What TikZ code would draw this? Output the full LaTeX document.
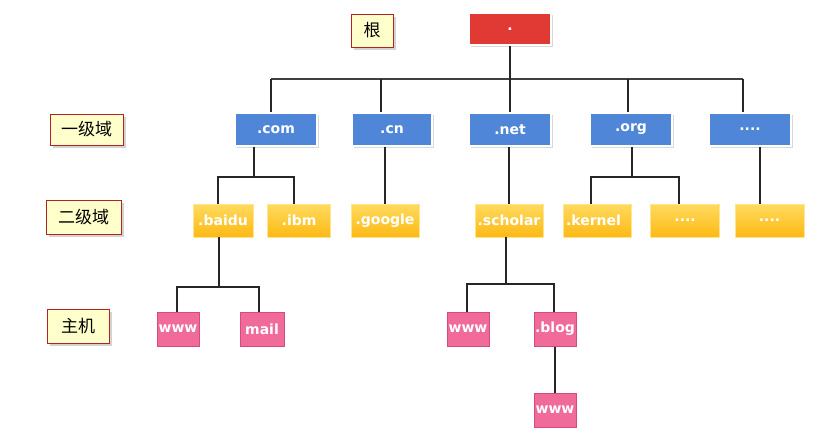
\documentclass[tikz,border=0pt]{standalone}
\usepackage{fontspec}
\setmainfont{DejaVu Sans}
\newfontfamily\cjk{Noto Sans CJK SC}
\usetikzlibrary{positioning,shadows}
\definecolor{rootred}{HTML}{E13A35}
\definecolor{tldblue}{HTML}{4F86D8}
\definecolor{sldtop}{HTML}{FFDA5E}
\definecolor{sldbot}{HTML}{FDB914}
\definecolor{hostpink}{HTML}{F06A9A}
\definecolor{hostedge}{HTML}{D64A80}
\definecolor{lblfill}{HTML}{FFFFCC}
\definecolor{lbledge}{HTML}{B52222}

\begin{document}
\begin{tikzpicture}[x=1pt, y=-1pt,
  box/.style={rectangle, inner sep=0pt, minimum height=33pt, text=white, font=\fontsize{14}{14}\selectfont\bfseries},
  rootbox/.style={box, fill=rootred, draw=white, line width=1.5pt, drop shadow={shadow xshift=1.5pt, shadow yshift=-1.5pt, opacity=0.3}},
  tldbox/.style={box, fill=tldblue, draw=white, line width=1.5pt, drop shadow={shadow xshift=1.5pt, shadow yshift=-1.5pt, opacity=0.3}},
  sldbox/.style={box, top color=sldtop, bottom color=sldbot, draw=sldtop!70!white, line width=0.6pt},
  hostbox/.style={box, minimum height=34pt, fill=hostpink, draw=hostedge, line width=1pt},
  lvl/.style={rectangle, inner sep=0pt, fill=lblfill, draw=lbledge, line width=1pt, font=\cjk\fontsize{17}{17}\selectfont, drop shadow={shadow xshift=3pt, shadow yshift=-3pt, opacity=0.35}},
  tree/.style={draw=black!85, line width=1.1pt},
  bar/.style={draw=black!75, line width=2.2pt}]
  \useasboundingbox (0,0) rectangle (816,432);

  % level labels
  \node[lvl, minimum width=42pt, minimum height=33pt] (lroot) at (372,30.5) {根};
  \node[lvl, minimum width=73pt, minimum height=31pt] (lfirst) at (86.5,129.5) {一级域};
  \node[lvl, minimum width=75pt, minimum height=34pt] (lsecond) at (83.5,217) {二级域};
  \node[lvl, minimum width=62pt, minimum height=34pt] (lhost) at (78,326) {主机};

  % root and top level domains
  \node[rootbox, minimum width=82pt, minimum height=32pt] (root) at (510,29) {.};
  \node[tldbox, minimum width=82pt] (com) at (276,129.5) {.com};
  \node[tldbox, minimum width=80pt] (cn) at (392,129.5) {.cn};
  \node[tldbox, minimum width=82pt] (net) at (510,129.5) {.net};
  \node[tldbox, minimum width=82pt] (org) at (631,129.5) {.org};
  \node[tldbox, minimum width=82pt] (tldmore) at (750,129.5) {....};

  % second level domains
  \node[sldbox, minimum width=60pt] (baidu) at (223,220.5) {.baidu};
  \node[sldbox, minimum width=63pt, right=14pt of baidu] (ibm) {.ibm};
  \node[sldbox, minimum width=68pt] (google) at (385,220.5) {.google};
  \node[sldbox, minimum width=68pt] (scholar) at (509,220.5) {.scholar};
  \node[sldbox, minimum width=68pt, text width=62pt, align=left] (kernel) at (597,220.5) {.kernel};
  \node[sldbox, minimum width=69pt, right=19pt of kernel] (orgmore) {....};
  \node[sldbox, minimum width=69pt] (sldmore) at (769.5,220.5) {....};

  % hosts
  \node[hostbox, minimum width=42pt] (www1) at (178,329) {www};
  \node[hostbox, minimum width=44pt, right=40pt of www1] (mail) {mail};
  \node[hostbox, minimum width=42pt] (www2) at (468,329) {www};
  \node[hostbox, minimum width=42pt] (blog) at (555,329) {.blog};
  \node[hostbox, minimum width=42pt, below=46pt of blog] (www3) {www};

  % junctions
  \coordinate (barl) at (271,79);
  \coordinate (barr) at (743,79);
  \coordinate (dcn) at (381,79);
  \coordinate (dorg) at (628,79);
  \coordinate (jcom) at (254,177);
  \coordinate (jcoml) at (218,177);
  \coordinate (jcomr) at (294,177);
  \coordinate (jorg) at (632,177);
  \coordinate (jorgl) at (591,177);
  \coordinate (jorgr) at (679,177);
  \coordinate (jbai) at (219,287);
  \coordinate (jbail) at (177,287);
  \coordinate (jbair) at (259,287);
  \coordinate (jsch) at (506,284);
  \coordinate (jschl) at (467,284);
  \coordinate (jschr) at (554,284);

  % root to top level
  \draw[bar] (barl) -- (barr);
  \draw[tree] (root.south) -- (net.north);
  \draw[tree] (barl) -- (barl |- com.north);
  \draw[tree] (dcn) -- (dcn |- cn.north);
  \draw[tree] (dorg) -- (dorg |- org.north);
  \draw[tree] (barr) -- (barr |- tldmore.north);

  % top level to second level
  \draw[tree] (jcom |- com.south) -- (jcom);
  \draw[tree] (jcoml |- baidu.north) -- (jcoml) -- (jcomr) -- (jcomr |- ibm.north);
  \draw[tree] (google.north) -- (google.north |- cn.south);
  \draw[tree] (scholar.north) -- (scholar.north |- net.south);
  \draw[tree] (jorg |- org.south) -- (jorg);
  \draw[tree] (jorgl |- kernel.north) -- (jorgl) -- (jorgr) -- (jorgr |- orgmore.north);
  \draw[tree] ([xshift=10pt]tldmore.south) -- ([xshift=10pt]tldmore.south |- sldmore.north);

  % second level to hosts
  \draw[tree] (jbai |- baidu.south) -- (jbai);
  \draw[tree] (jbail |- www1.north) -- (jbail) -- (jbair) -- (jbair |- mail.north);
  \draw[tree] (jsch |- scholar.south) -- (jsch);
  \draw[tree] (jschl |- www2.north) -- (jschl) -- (jschr) -- (jschr |- blog.north);
  \draw[tree] (blog.south) -- (www3.north);
\end{tikzpicture}
\end{document}
